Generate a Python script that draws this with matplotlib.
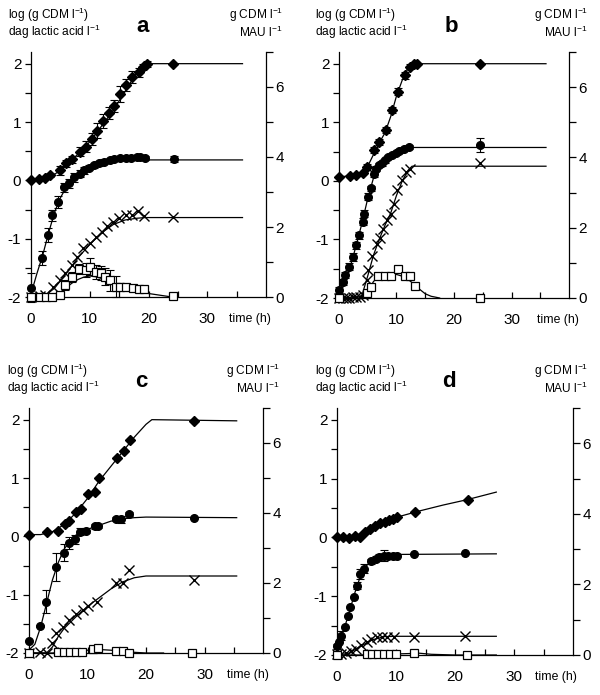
import matplotlib.pyplot as plt

plt.rcParams['font.family'] = ['Liberation Sans', 'DejaVu Sans']
plt.rcParams['mathtext.fontset'] = 'custom'
plt.rcParams['mathtext.rm'] = 'Liberation Sans'
plt.rcParams['mathtext.it'] = 'Liberation Sans:italic'

# ---- panel a ----
# diamonds: lactic acid (left axis), circles: log CDM (left axis)
a_dia_t = [0, 1.4, 2.4, 3.3, 5.0, 6.0, 7.0, 8.3, 9.3, 10.3, 11.2, 12.3, 13.2, 14.1, 15.2, 16.2, 17.2, 18.3, 19.1, 19.7, 24.2]
a_dia = [0.0, 0.02, 0.04, 0.09, 0.17, 0.29, 0.36, 0.49, 0.58, 0.71, 0.85, 1.01, 1.16, 1.28, 1.48, 1.64, 1.77, 1.85, 1.95, 2.0, 2.0]
a_dia_err = [0, 0, 0, 0.03, 0.07, 0.06, 0.06, 0.08, 0.1, 0.1, 0.13, 0.12, 0.1, 0.1, 0.13, 0.1, 0.1, 0.08, 0.05, 0.05, 0]
a_cir_t = [0, 1.8, 2.9, 3.6, 4.6, 5.6, 6.4, 7.4, 8.3, 9.1, 9.9, 10.7, 11.6, 12.5, 13.4, 14.2, 15.1, 16.1, 17.0, 18.0, 18.6, 19.4, 24.3]
a_cir = [-1.84, -1.33, -0.93, -0.6, -0.37, -0.12, -0.05, 0.05, 0.11, 0.17, 0.22, 0.26, 0.29, 0.32, 0.35, 0.36, 0.38, 0.38, 0.38, 0.4, 0.4, 0.38, 0.36]
a_cir_err = [0.25, 0.12, 0.12, 0.1, 0.1, 0.08, 0.08, 0.07, 0.06, 0.06, 0.05, 0.04, 0.04, 0.04, 0.03, 0.03, 0.03, 0.03, 0.03, 0.03, 0.03, 0.03, 0.05]
# crosses: g CDM (right axis), squares: MAU (right axis)
a_x_t = [0, 1.5, 2.4, 3.8, 4.95, 5.8, 6.95, 7.9, 8.9, 10.0, 11.1, 12.1, 13.0, 14.0, 14.9, 16.1, 17.2, 18.2, 19.3, 24.2]
a_x = [0, 0.03, 0.07, 0.3, 0.48, 0.68, 0.92, 1.15, 1.4, 1.55, 1.72, 1.87, 2.03, 2.15, 2.25, 2.35, 2.35, 2.47, 2.32, 2.28]
a_sq_t = [0, 1.5, 2.5, 3.5, 4.9, 5.8, 7.0, 8.2, 9.3, 10.0, 11.0, 11.9, 12.6, 13.5, 14.4, 15.2, 16.1, 17.4, 18.3, 19.2, 24.2]
a_sq = [0, 0, 0, 0, 0.05, 0.35, 0.57, 0.8, 0.78, 0.87, 0.72, 0.68, 0.58, 0.48, 0.3, 0.3, 0.28, 0.25, 0.23, 0.22, 0.03]
a_sq_err = [0, 0, 0, 0, 0, 0.15, 0.15, 0.15, 0.2, 0.25, 0.2, 0.2, 0.25, 0.3, 0.3, 0.1, 0.05, 0.05, 0.05, 0.05, 0]
# fitted curves
a_fdia_t = [0, 2, 4, 6, 8, 10, 12, 14, 16, 18, 19.5, 36]
a_fdia = [0, 0.02, 0.1, 0.26, 0.45, 0.66, 0.93, 1.2, 1.52, 1.85, 2.0, 2.0]
a_fcir_t = [0, 1, 2, 3, 4, 5, 6, 8, 10, 12, 14, 16, 18, 36]
a_fcir = [-1.95, -1.6, -1.28, -0.9, -0.55, -0.3, -0.12, 0.07, 0.19, 0.27, 0.32, 0.34, 0.35, 0.35]
a_fx_t = [0, 2, 3, 4, 6, 8, 10, 12, 14, 16, 18, 19.5, 36]
a_fx = [0, 0.03, 0.12, 0.25, 0.67, 1.12, 1.5, 1.83, 2.07, 2.2, 2.25, 2.27, 2.27]
a_fsq_t = [0, 4, 5, 6, 7, 8, 9, 10, 11, 12, 13, 14, 15, 16, 18, 20, 22, 24]
a_fsq = [0, 0, 0.08, 0.27, 0.4, 0.5, 0.57, 0.6, 0.58, 0.53, 0.47, 0.4, 0.33, 0.27, 0.17, 0.1, 0.05, 0]

# ---- panel b ----
b_dia_t = [0, 1.9, 2.9, 4.1, 4.9, 6.1, 7.0, 8.1, 9.3, 10.2, 11.45, 12.4, 13.0, 13.5, 24.5]
b_dia = [0.07, 0.08, 0.1, 0.14, 0.24, 0.52, 0.67, 0.87, 1.21, 1.52, 1.8, 1.95, 1.99, 2.0, 2.0]
b_dia_err = [0, 0, 0, 0, 0.05, 0.05, 0.05, 0.05, 0.05, 0.06, 0.06, 0.04, 0.03, 0, 0]
b_cir_t = [0, 0.7, 1.1, 1.8, 2.4, 3.0, 3.5, 4.1, 4.4, 5.0, 5.5, 6.1, 6.5, 7.0, 7.5, 8.0, 8.6, 9.3, 9.9, 10.4, 11.3, 12.1, 24.5]
b_cir = [-1.86, -1.72, -1.61, -1.47, -1.3, -1.1, -0.93, -0.7, -0.56, -0.27, -0.13, 0.12, 0.21, 0.27, 0.3, 0.35, 0.41, 0.45, 0.48, 0.51, 0.55, 0.58, 0.61]
b_cir_err = [0.05, 0.05, 0.05, 0.06, 0.06, 0.06, 0.06, 0.06, 0.06, 0.06, 0.05, 0.05, 0.05, 0.04, 0.04, 0.04, 0.04, 0.03, 0.03, 0.03, 0.03, 0.03, 0.12]
b_x_t = [0, 0.7, 1.2, 1.8, 2.4, 3.0, 3.6, 4.2, 4.8, 5.05, 5.8, 6.6, 7.1, 7.7, 8.4, 9.0, 9.5, 10.1, 10.9, 11.6, 12.3, 24.5]
b_x = [0, 0, 0, 0, 0.02, 0.02, 0.03, 0.08, 0.52, 0.8, 1.2, 1.55, 1.72, 1.95, 2.22, 2.4, 2.68, 3.07, 3.35, 3.58, 3.68, 3.85]
b_sq_t = [0, 4.8, 5.6, 6.8, 7.95, 9.1, 10.3, 11.4, 12.3, 13.2, 24.5]
b_sq = [0, 0.13, 0.32, 0.63, 0.63, 0.63, 0.82, 0.63, 0.63, 0.35, 0]
b_fdia_t = [0, 3, 4, 5, 6, 7, 8, 9, 10, 11, 12, 13, 36]
b_fdia = [0.07, 0.09, 0.13, 0.25, 0.45, 0.65, 0.82, 1.1, 1.45, 1.72, 1.92, 2.0, 2.0]
b_fcir_t = [0, 1, 2, 3, 4, 5, 6, 7, 8, 9, 10, 11, 12, 13, 36]
b_fcir = [-1.9, -1.7, -1.45, -1.1, -0.72, -0.3, 0.05, 0.25, 0.35, 0.43, 0.49, 0.54, 0.57, 0.57, 0.57]
b_fx_t = [0, 3, 4, 5, 6, 7, 8, 9, 10, 11, 12, 12.7, 36]
b_fx = [0, 0, 0.08, 0.63, 1.22, 1.67, 2.07, 2.42, 2.92, 3.33, 3.63, 3.75, 3.75]
b_fsq_t = [0, 4, 5, 6, 7, 8, 9, 10, 11, 12, 13, 14, 15, 16, 17.5]
b_fsq = [0, 0, 0.17, 0.47, 0.62, 0.67, 0.67, 0.67, 0.62, 0.53, 0.4, 0.25, 0.12, 0.05, 0]

# ---- panel c ----
c_dia_t = [0, 3.1, 4.95, 6.1, 6.9, 8.1, 8.9, 10.1, 11.2, 11.95, 15.0, 16.2, 17.3, 28.2]
c_dia = [0.03, 0.08, 0.09, 0.22, 0.27, 0.42, 0.47, 0.72, 0.76, 1.0, 1.35, 1.46, 1.65, 1.98]
c_cir_t = [0, 1.95, 2.95, 4.6, 5.9, 6.8, 7.8, 8.8, 9.8, 11.2, 11.8, 14.9, 15.7, 17.1, 28.2]
c_cir = [-1.79, -1.54, -1.12, -0.52, -0.28, -0.11, -0.05, 0.08, 0.1, 0.17, 0.17, 0.3, 0.29, 0.38, 0.32]
c_cir_err = [0, 0.02, 0.2, 0.24, 0.15, 0.1, 0.08, 0.06, 0.04, 0.04, 0.03, 0.04, 0.06, 0.03, 0]
c_x_t = [0, 1.8, 3.0, 4.0, 4.7, 5.8, 6.9, 8.0, 9.3, 10.1, 11.6, 14.9, 16.0, 17.1, 28.2]
c_x = [0, 0.02, 0, 0.28, 0.57, 0.75, 0.95, 1.12, 1.22, 1.35, 1.47, 2.0, 2.0, 2.38, 2.08]
c_sq_t = [0, 5, 6, 7, 8, 9, 11, 11.8, 14.9, 16, 17.1, 27.9]
c_sq = [0, 0.02, 0.02, 0.02, 0.02, 0.02, 0.12, 0.15, 0.05, 0.05, 0, 0]
c_fdia_t = [0, 2, 4, 6, 8, 10, 12, 14, 16, 18, 20, 21, 35.5]
c_fdia = [0.03, 0.03, 0.08, 0.2, 0.4, 0.65, 0.95, 1.2, 1.45, 1.7, 1.92, 2.0, 1.98]
c_fcir_t = [0, 1, 2, 3, 4, 5, 6, 7, 8, 10, 12, 14, 16, 18, 20, 35.5]
c_fcir = [-1.95, -1.85, -1.55, -1.15, -0.75, -0.45, -0.22, -0.08, 0.02, 0.12, 0.19, 0.26, 0.3, 0.32, 0.33, 0.32]
c_fx_t = [0, 3, 4, 5, 6, 8, 10, 12, 14, 16, 18, 20, 35.5]
c_fx = [0, 0, 0.17, 0.47, 0.7, 1.03, 1.33, 1.58, 1.83, 2.03, 2.15, 2.2, 2.2]
c_fsq_t = [0, 4, 6, 8, 10, 12, 14, 16, 18, 20, 23]
c_fsq = [0, 0, 0.03, 0.05, 0.08, 0.1, 0.08, 0.05, 0.02, 0, 0]

# ---- panel d ----
d_dia_t = [0, 1.1, 2.1, 3.1, 3.85, 4.8, 5.65, 6.5, 7.35, 8.2, 8.8, 9.5, 10.2, 13.3, 22.2]
d_dia = [0.01, 0.0, -0.01, 0.03, 0.0, 0.1, 0.14, 0.2, 0.24, 0.27, 0.3, 0.32, 0.35, 0.44, 0.64]
d_cir_t = [0, 0.33, 0.73, 1.3, 1.86, 2.26, 2.8, 3.4, 3.85, 4.5, 5.8, 6.55, 7.2, 7.9, 8.65, 9.5, 10.1, 13.0, 21.7]
d_cir = [-1.85, -1.78, -1.67, -1.53, -1.34, -1.19, -1.02, -0.82, -0.62, -0.53, -0.41, -0.36, -0.33, -0.31, -0.31, -0.32, -0.32, -0.28, -0.27]
d_cir_err = [0.04, 0, 0.08, 0, 0, 0, 0, 0.06, 0.08, 0.08, 0.05, 0.04, 0.04, 0.1, 0.03, 0.03, 0, 0, 0]
d_x_t = [0, 0.7, 1.6, 2.4, 3.3, 4.1, 5.0, 5.8, 6.7, 7.6, 8.5, 9.6, 13.0, 21.7]
d_x = [0.03, 0.03, 0.07, 0.12, 0.18, 0.28, 0.37, 0.45, 0.5, 0.52, 0.52, 0.5, 0.52, 0.55]
d_sq_t = [0, 5, 6, 7, 8, 9, 10, 13, 22]
d_sq = [0, 0.02, 0.02, 0.02, 0.02, 0.02, 0.02, 0.05, 0]
d_fdia_t = [0, 2, 4, 6, 8, 10, 14, 18, 22, 27]
d_fdia = [0, 0, 0.06, 0.18, 0.27, 0.34, 0.45, 0.55, 0.64, 0.77]
d_fcir_t = [0, 1, 2, 3, 4, 5, 6, 7, 8, 10, 27]
d_fcir = [-1.92, -1.62, -1.3, -0.95, -0.65, -0.48, -0.39, -0.33, -0.3, -0.29, -0.28]
d_fx_t = [0, 2, 4, 6, 8, 10, 27]
d_fx = [0, 0.05, 0.25, 0.43, 0.52, 0.53, 0.53]
d_fsq_t = [0, 4, 6, 10, 14, 16, 20, 27]
d_fsq = [0, 0, 0.02, 0.03, 0.05, 0.02, 0, 0]

panels = [
    dict(letter='a', box=(31, 52, 266, 297), lab=(8, 283),
         dia=(a_dia_t, a_dia, a_dia_err), cir=(a_cir_t, a_cir, a_cir_err),
         x=(a_x_t, a_x), sq=(a_sq_t, a_sq, a_sq_err),
         fits=[(a_fdia_t, a_fdia, 'l'), (a_fcir_t, a_fcir, 'l'), (a_fx_t, a_fx, 'r'), (a_fsq_t, a_fsq, 'r')]),
    dict(letter='b', box=(339, 52, 569, 298), lab=(315, 588),
         dia=(b_dia_t, b_dia, b_dia_err), cir=(b_cir_t, b_cir, b_cir_err),
         x=(b_x_t, b_x), sq=(b_sq_t, b_sq, None),
         fits=[(b_fdia_t, b_fdia, 'l'), (b_fcir_t, b_fcir, 'l'), (b_fx_t, b_fx, 'r'), (b_fsq_t, b_fsq, 'r')]),
    dict(letter='c', box=(29, 408, 263, 653), lab=(7, 280),
         dia=(c_dia_t, c_dia, None), cir=(c_cir_t, c_cir, c_cir_err),
         x=(c_x_t, c_x), sq=(c_sq_t, c_sq, None),
         fits=[(c_fdia_t, c_fdia, 'l'), (c_fcir_t, c_fcir, 'l'), (c_fx_t, c_fx, 'r'), (c_fsq_t, c_fsq, 'r')]),
    dict(letter='d', box=(337, 408, 573, 655), lab=(315, 588),
         dia=(d_dia_t, d_dia, None), cir=(d_cir_t, d_cir, d_cir_err),
         x=(d_x_t, d_x), sq=(d_sq_t, d_sq, None),
         fits=[(d_fdia_t, d_fdia, 'l'), (d_fcir_t, d_fcir, 'l'), (d_fx_t, d_fx, 'r'), (d_fsq_t, d_fsq, 'r')]),
]

W, H = 600, 695
fig = plt.figure(figsize=(W / 100, H / 100), dpi=100)

ebkw = dict(ecolor='black', elinewidth=0.8, capsize=3, capthick=0.8, clip_on=False)

for p in panels:
    x0, y0, x1, y1 = p['box']
    ax = fig.add_axes([x0 / W, 1 - y1 / H, (x1 - x0) / W, (y1 - y0) / H])
    ax2 = ax.twinx()
    ax.set_xlim(0, 40)
    ax.set_ylim(-2, 2.2)
    ax2.set_ylim(0, 7)
    ax.patch.set_visible(False)

    for a in (ax, ax2):
        a.spines['top'].set_visible(False)
        for s in a.spines.values():
            s.set_linewidth(0.9)
    ax.spines['right'].set_visible(False)
    ax2.spines['left'].set_visible(False)
    ax2.spines['bottom'].set_visible(False)

    ax.set_xticks([0, 10, 20, 30])
    ax.set_xticks([5, 15, 25, 35], minor=True)
    ax.tick_params(axis='x', which='both', direction='in', length=4, width=0.9, pad=11, labelsize=11)
    ax.set_yticks([-2, -1, 0, 1, 2])
    ax.set_yticklabels(['-2', '-1', '0', '1', '2'])
    ax.set_yticks([-1.5, -0.5, 0.5, 1.5], minor=True)
    ax.tick_params(axis='y', which='both', direction='out', length=4, width=0.9, pad=3, labelsize=11)
    ax2.set_yticks([0, 2, 4, 6])
    ax2.set_yticks([1, 3, 5, 7], minor=True)
    ax2.tick_params(axis='y', which='both', direction='out', length=5, width=0.9, pad=2, labelsize=11)

    for ft, fv, side in p['fits']:
        target = ax if side == 'l' else ax2
        target.plot(ft, fv, color='black', lw=0.9, clip_on=False, zorder=2)

    t, v, e = p['dia']
    if e is not None:
        ax.errorbar(t, v, yerr=e, fmt='none', **ebkw)
    ax.plot(t, v, 'D', color='black', ms=5.5, clip_on=False, zorder=4)
    t, v, e = p['cir']
    if e is not None:
        ax.errorbar(t, v, yerr=e, fmt='none', **ebkw)
    ax.plot(t, v, 'o', color='black', ms=5.5, clip_on=False, zorder=4)
    t, v = p['x']
    ax2.plot(t, v, 'x', color='black', ms=7, mew=1.0, clip_on=False, zorder=4)
    t, v, e = p['sq']
    if e is not None:
        ax2.errorbar(t, v, yerr=e, fmt='none', **ebkw)
    ax2.plot(t, v, 's', mfc='white', mec='black', mew=0.9, ms=5.5, clip_on=False, zorder=5)

    # header texts
    lx, rx = p['lab']
    fig.text(lx / W, 1 - (y0 - 37) / H, 'log (g CDM l$^{-1}$)', fontsize=8.6, va='center', ha='left')
    fig.text(lx / W, 1 - (y0 - 20) / H, 'dag lactic acid l$^{-1}$', fontsize=8.6, va='center', ha='left')
    fig.text(rx / W, 1 - (y0 - 37) / H, 'g CDM l$^{-1}$', fontsize=8.6, va='center', ha='right')
    fig.text(rx / W, 1 - (y0 - 20) / H, 'MAU l$^{-1}$', fontsize=8.6, va='center', ha='right')
    fig.text((x0 + 112) / W, 1 - (y0 - 26) / H, p['letter'], fontsize=16, fontweight='bold',
             va='center', ha='center')
    fig.text((x0 + 219) / W, 1 - (y1 + 22) / H, 'time (h)', fontsize=8.8, va='center', ha='center')

fig.savefig('out.png', dpi=100)
